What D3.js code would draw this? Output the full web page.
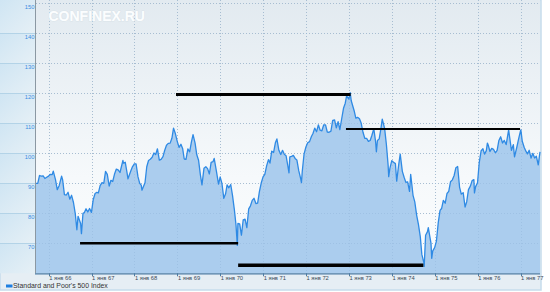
<!DOCTYPE html>
<html><head><meta charset="utf-8">
<script src="https://cdn.jsdelivr.net/npm/d3@7/dist/d3.min.js"></script>
<style>html,body{margin:0;padding:0;background:#fff;}svg{display:block;}</style>
</head><body>
<svg id="chart" width="550" height="292"></svg>
<script>
// ---------- DATA ----------
const seriesName = "Standard and Poor's 500 Index";
const watermark = "CONFINEX.RU";
const yTicks = [70, 80, 90, 100, 110, 120, 130, 140, 150];
const xTickYears = [1966, 1967, 1968, 1969, 1970, 1971, 1972, 1973, 1974, 1975, 1976, 1977];
const xTickFormat = "1 янв %y";
const dates = [
"1965-09-15","1965-09-30","1965-10-15","1965-10-31","1965-11-15","1965-11-30","1965-12-15","1965-12-31",
"1966-01-15","1966-01-31","1966-02-09","1966-02-28","1966-03-15","1966-03-31","1966-04-21","1966-04-30",
"1966-05-15","1966-05-31","1966-06-15","1966-06-30","1966-07-15","1966-07-31","1966-08-15","1966-08-29",
"1966-09-08","1966-09-30","1966-10-07","1966-10-20","1966-10-31","1966-11-15","1966-11-30","1966-12-15","1966-12-31",
"1967-01-15","1967-01-31","1967-02-15","1967-02-28","1967-03-15","1967-03-31","1967-04-15","1967-04-30",
"1967-05-15","1967-05-31","1967-06-15","1967-06-30","1967-07-15","1967-07-31","1967-08-15","1967-08-31",
"1967-09-25","1967-09-30","1967-10-15","1967-10-31","1967-11-07","1967-11-30","1967-12-15","1967-12-31",
"1968-01-15","1968-01-31","1968-02-15","1968-02-28","1968-03-05","1968-03-31","1968-04-15","1968-04-30",
"1968-05-15","1968-05-31","1968-06-15","1968-06-30","1968-07-15","1968-07-31","1968-08-15","1968-08-31",
"1968-09-15","1968-09-30","1968-10-15","1968-10-31","1968-11-15","1968-11-29","1968-12-15","1968-12-31",
"1969-01-15","1969-01-31","1969-02-15","1969-02-28","1969-03-15","1969-03-31","1969-04-15","1969-04-30",
"1969-05-14","1969-05-31","1969-06-15","1969-06-30","1969-07-15","1969-07-29","1969-08-15","1969-08-31",
"1969-09-15","1969-09-30","1969-10-15","1969-10-31","1969-11-10","1969-11-30","1969-12-17","1969-12-31",
"1970-01-15","1970-01-31","1970-02-15","1970-02-28","1970-03-15","1970-03-31","1970-04-15","1970-04-30",
"1970-05-15","1970-05-26","1970-05-31","1970-06-15","1970-06-30","1970-07-15","1970-07-31","1970-08-15",
"1970-08-31","1970-09-15","1970-09-30","1970-10-15","1970-10-31","1970-11-15","1970-11-30","1970-12-15","1970-12-31",
"1971-01-15","1971-01-31","1971-02-15","1971-02-28","1971-03-15","1971-03-31","1971-04-15","1971-04-28",
"1971-05-15","1971-05-31","1971-06-15","1971-06-30","1971-07-15","1971-07-31","1971-08-09","1971-08-16",
"1971-08-31","1971-09-15","1971-09-30","1971-10-15","1971-10-31","1971-11-15","1971-11-23","1971-11-30",
"1971-12-15","1971-12-31",
"1972-01-15","1972-01-31","1972-02-15","1972-02-29","1972-03-15","1972-03-31","1972-04-15","1972-04-30",
"1972-05-15","1972-05-31","1972-06-15","1972-06-30","1972-07-15","1972-07-31","1972-08-15","1972-08-31",
"1972-09-15","1972-09-30","1972-10-15","1972-10-31","1972-11-15","1972-11-30","1972-12-11","1972-12-31",
"1973-01-11","1973-01-20","1973-01-31","1973-02-15","1973-02-28","1973-03-15","1973-03-31","1973-04-15",
"1973-04-30","1973-05-15","1973-05-31","1973-06-15","1973-06-30","1973-07-15","1973-07-31","1973-08-15",
"1973-08-22","1973-08-31","1973-09-15","1973-09-30","1973-10-11","1973-10-31","1973-11-15","1973-11-30",
"1973-12-05","1973-12-15","1973-12-31",
"1974-01-15","1974-01-31","1974-02-11","1974-02-28","1974-03-13","1974-03-31","1974-04-15","1974-04-30",
"1974-05-15","1974-05-31","1974-06-10","1974-06-30","1974-07-15","1974-07-31","1974-08-15","1974-08-31",
"1974-09-13","1974-09-30","1974-10-03","1974-10-15","1974-10-31","1974-11-07","1974-11-30","1974-12-06",
"1974-12-15","1974-12-31",
"1975-01-15","1975-01-31","1975-02-15","1975-02-28","1975-03-15","1975-03-31","1975-04-15","1975-04-30",
"1975-05-15","1975-05-31","1975-06-15","1975-06-30","1975-07-15","1975-07-31","1975-08-15","1975-08-31",
"1975-09-16","1975-09-30","1975-10-15","1975-10-31","1975-11-15","1975-11-30","1975-12-05","1975-12-15","1975-12-31",
"1976-01-15","1976-01-31","1976-02-15","1976-02-29","1976-03-15","1976-03-24","1976-03-31","1976-04-15",
"1976-04-30","1976-05-15","1976-05-31","1976-06-15","1976-06-30","1976-07-15","1976-07-31","1976-08-15",
"1976-08-31","1976-09-21","1976-09-30","1976-10-15","1976-10-31","1976-11-10","1976-11-30","1976-12-15","1976-12-31",
"1977-01-03","1977-01-15","1977-01-31","1977-02-15","1977-02-28","1977-03-15","1977-03-31","1977-04-15",
"1977-04-30","1977-05-15","1977-05-31","1977-06-15"
];
const values = [
90.0,89.96,92.6,92.4,92.5,91.6,92.0,92.4,
93.0,92.9,94.06,91.2,87.9,89.2,92.4,91.1,
86.2,86.1,87.0,84.7,86.0,83.6,80.0,74.5,
79.0,76.6,73.2,80.0,80.2,81.5,80.45,81.6,80.3,
84.5,86.6,87.0,86.8,89.2,90.2,90.0,94.0,
93.0,89.1,91.0,90.6,93.0,94.75,94.5,93.6,
97.6,96.7,97.0,93.3,91.5,94.0,95.5,96.5,
96.5,92.2,90.0,89.4,87.7,90.2,95.5,97.6,
98.0,98.7,100.1,99.6,101.5,97.7,98.0,98.9,
101.0,102.7,103.3,103.4,105.0,108.4,106.5,103.9,
102.0,103.0,101.5,98.1,98.0,101.5,100.5,103.7,
106.2,103.5,99.5,97.7,93.0,89.5,95.0,95.5,
94.9,93.1,97.0,97.2,98.3,93.8,89.7,92.1,
90.0,85.0,86.5,89.5,88.5,89.6,86.0,81.5,
76.0,69.3,76.6,76.5,72.7,77.8,78.05,75.2,
81.5,82.5,84.3,85.0,83.25,83.4,87.2,90.0,92.15,
93.0,95.9,97.9,96.75,100.7,100.3,103.5,104.8,
101.0,99.6,101.0,99.7,99.2,95.6,93.5,98.8,
99.0,99.3,98.3,97.8,94.2,91.8,90.2,94.0,
99.7,102.1,
103.5,103.9,105.5,106.6,108.4,107.2,109.5,107.7,
107.5,109.5,109.5,107.1,107.0,107.4,111.0,111.1,
108.5,110.55,107.9,111.6,115.0,116.7,119.1,118.05,
120.24,117.5,116.0,114.0,111.7,112.0,111.5,110.0,
107.0,105.0,104.95,104.0,104.26,106.0,108.2,104.0,
100.5,104.25,104.8,108.4,111.4,108.3,103.0,96.0,
92.2,95.0,97.55,
97.0,96.57,90.7,96.22,99.7,93.98,92.0,90.31,
90.5,87.28,93.0,86.0,83.8,79.31,76.3,72.15,
66.3,63.54,62.28,72.7,73.9,75.2,69.97,65.0,
67.5,68.56,
70.7,76.98,81.0,81.59,84.3,83.36,86.6,87.3,
90.5,91.15,92.6,95.19,95.6,88.75,86.4,86.88,
82.1,83.87,87.9,89.04,90.9,91.24,86.8,88.9,90.19,
97.0,100.86,101.5,99.71,100.9,103.4,102.77,100.6,
101.64,101.3,100.18,101.0,104.28,105.5,103.44,104.3,
102.91,107.8,105.24,101.0,102.9,98.8,102.1,104.8,107.46,
107.8,104.0,102.03,100.7,99.82,101.0,98.42,100.0,
98.44,99.0,96.12,100.5
];
// annotation segments (drawn by hand on the original)
const segStart = ["1966-09-25", "1968-12-20", "1972-12-06", "1970-06-02"];
const segEnd   = ["1970-06-02", "1973-01-15", "1976-12-27", "1974-09-26"];
const segValue = [70, 119.6, 108.1, 62.7];

// ---------- DRAW ----------
const parse = d3.timeParse("%Y-%m-%d");
const series = dates.map((d, i) => ({ date: parse(d), value: values[i] }));
const svg = d3.select("#chart");
const L = 36, R = 540, T = 3.3, B = 273.3;

const x = d3.scaleTime().domain([parse("1965-09-15"), parse("1977-06-15")]).range([L, R]);
const y = d3.scaleLinear().domain([60, 150]).range([B, T]);

const defs = svg.append("defs");
const bgGrad = defs.append("linearGradient").attr("id", "bg").attr("x1", 0).attr("y1", 0).attr("x2", 0).attr("y2", 1);
bgGrad.append("stop").attr("offset", "0%").attr("stop-color", "#e2eaf0");
bgGrad.append("stop").attr("offset", "65%").attr("stop-color", "#f6f9fb");
bgGrad.append("stop").attr("offset", "100%").attr("stop-color", "#fbfdfe");
const boxGrad = defs.append("linearGradient").attr("id", "box").attr("x1", 0).attr("y1", 0).attr("x2", 1).attr("y2", 1);
boxGrad.append("stop").attr("offset", "0%").attr("stop-color", "#cfe5f3");
boxGrad.append("stop").attr("offset", "100%").attr("stop-color", "#e6f0f6");

// outer frame / legend background
svg.append("rect").attr("x", 0).attr("y", 0).attr("width", 541).attr("height", 290)
  .attr("fill", "#e6eef4").attr("stroke", "#c6dcec").attr("stroke-width", 1.5);

// plot background
svg.append("rect").attr("x", L).attr("y", 0).attr("width", R - L).attr("height", B)
  .attr("fill", "url(#bg)");

// left axis panel boxes
const boxEdges = [0].concat(yTicks.slice().reverse().slice(1).map(v => y(v))).concat([B]);
for (let i = 0; i < boxEdges.length - 1; i++) {
  svg.append("rect").attr("x", 0).attr("y", boxEdges[i]).attr("width", L - 0.5)
    .attr("height", boxEdges[i + 1] - boxEdges[i]).attr("fill", "url(#box)");
}
svg.append("g").selectAll("line").data(yTicks.slice(0, -1)).join("line")
  .attr("x1", 0).attr("x2", L).attr("y1", d => Math.round(y(d)) + 0.5).attr("y2", d => Math.round(y(d)) + 0.5)
  .attr("stroke", "#b3d3e7").attr("stroke-width", 1);

// gridlines
const xTicks = xTickYears.map(yr => new Date(yr, 0, 1));
function grid(color, op) {
  svg.append("g").selectAll("line").data(yTicks).join("line")
    .attr("x1", L).attr("x2", R).attr("y1", d => Math.round(y(d)) + 0.5).attr("y2", d => Math.round(y(d)) + 0.5)
    .attr("stroke", color).attr("stroke-opacity", op).attr("stroke-width", 1).attr("stroke-dasharray", "1,2");
  svg.append("g").selectAll("line").data(xTicks).join("line")
    .attr("x1", d => Math.round(x(d)) + 0.5).attr("x2", d => Math.round(x(d)) + 0.5).attr("y1", 0).attr("y2", B)
    .attr("stroke", color).attr("stroke-opacity", op).attr("stroke-width", 1).attr("stroke-dasharray", "1,2");
}
grid("#bcc5cc", 1);

// area + line
const area = d3.area().x(d => x(d.date)).y0(B).y1(d => y(d.value));
const line = d3.line().x(d => x(d.date)).y(d => y(d.value));
svg.append("path").datum(series).attr("d", area).attr("fill", "#abcdee");
grid("#8db3d6", 0.45);
svg.append("path").datum(series).attr("d", line).attr("fill", "none")
  .attr("stroke", "#2f8ae4").attr("stroke-width", 1.3).attr("stroke-linejoin", "round");

// annotation segments
const segWidths = [2.5, 3, 2, 3.5];
svg.append("g").selectAll("line").data(segValue).join("line")
  .attr("x1", (d, i) => x(parse(segStart[i]))).attr("x2", (d, i) => x(parse(segEnd[i])))
  .attr("y1", d => y(d)).attr("y2", d => y(d))
  .attr("stroke", "#000").attr("stroke-width", (d, i) => segWidths[i]);

// axis lines
svg.append("line").attr("x1", L - 0.5).attr("x2", L - 0.5).attr("y1", 0).attr("y2", B)
  .attr("stroke", "#8b98a3").attr("stroke-width", 1);
svg.append("line").attr("x1", L - 1).attr("x2", R).attr("y1", B + 0.5).attr("y2", B + 0.5)
  .attr("stroke", "#4d7ba3").attr("stroke-width", 1.3);

// x ticks + labels
const fmt = d3.timeFormat(xTickFormat);
svg.append("g").selectAll("line").data(xTicks).join("line")
  .attr("x1", d => Math.round(x(d)) + 0.5).attr("x2", d => Math.round(x(d)) + 0.5)
  .attr("y1", B).attr("y2", B + 3).attr("stroke", "#4d7ba3");
svg.append("g").selectAll("text").data(xTicks).join("text")
  .attr("x", d => x(d) + 0.5).attr("y", B + 6.5)
  .attr("font-family", "Liberation Sans, Arial, sans-serif").attr("font-size", 5.8)
  .attr("fill", "#3a4a58").text(d => fmt(d));

// y labels
svg.append("g").selectAll("text").data(yTicks).join("text")
  .attr("x", 34.5).attr("y", d => y(d) + 5.2).attr("text-anchor", "end")
  .attr("font-family", "Liberation Sans, Arial, sans-serif").attr("font-size", 5.8)
  .attr("fill", "#3a8ee2").text(d => d);

// legend
svg.append("rect").attr("x", 6).attr("y", 284.5).attr("width", 6.5).attr("height", 3).attr("fill", "#1f7fe0");
svg.append("text").attr("x", 13).attr("y", 288.2)
  .attr("font-family", "Liberation Sans, Arial, sans-serif").attr("font-size", 6.9)
  .attr("fill", "#333").text(seriesName);

// watermark
svg.append("text").attr("x", 48.5).attr("y", 20.5)
  .attr("font-family", "Liberation Sans, Arial, sans-serif").attr("font-weight", "bold").attr("font-size", 14)
  .attr("fill", "#fbfdfe").attr("stroke", "#dbe4ea").attr("stroke-width", 1)
  .attr("paint-order", "stroke").attr("stroke-linejoin", "round").text(watermark);
</script>
</body></html>
